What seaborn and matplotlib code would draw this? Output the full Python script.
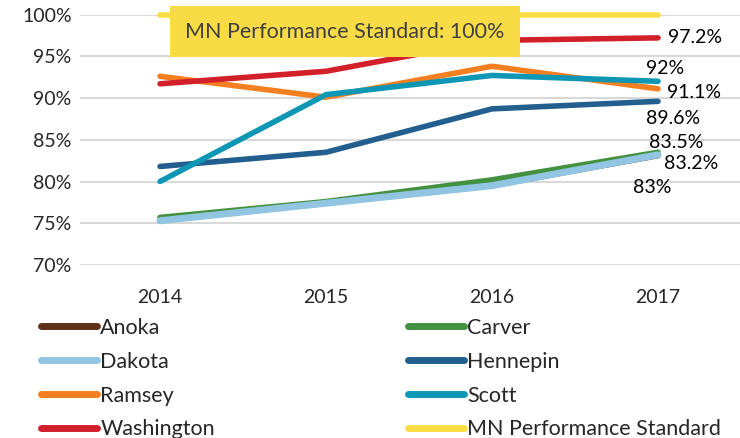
import pandas as pd
import numpy as np
import matplotlib
matplotlib.use('Agg')
import matplotlib.pyplot as plt
import seaborn as sns

# values
years = ['2014', '2015', '2016', '2017']
anoka = [75.3, 77.4, 79.5, 83.1]
carver = [75.7, 77.6, 80.2, 83.5]
dakota = [75.3, 77.4, 79.5, 83.2]
hennepin = [81.8, 83.5, 88.7, 89.6]
ramsey = [92.6, 90.1, 93.8, 91.1]
scott = [80.0, 90.4, 92.7, 92.0]
washington = [91.7, 93.2, 96.9, 97.2]
mn_standard = [100, 100, 100, 100]

names = ['Anoka', 'Carver', 'Dakota', 'Hennepin', 'Ramsey', 'Scott',
         'Washington', 'MN Performance Standard']
series = [anoka, carver, dakota, hennepin, ramsey, scott, washington, mn_standard]
colors = ['#5C3317', '#43913F', '#92C5E2', '#235F8E', '#F47F20', '#0E97B5',
          '#D2202B', '#F9DE45']

# end labels: text, dx px, dy px (positive dy = down)
end_labels = {'Washington': ('97.2%', 10, 0),
              'Scott': ('92%', -12, -13),
              'Ramsey': ('91.1%', 9, 4),
              'Hennepin': ('89.6%', -12, 17),
              'Carver': ('83.5%', -9, -10),
              'Dakota': ('83.2%', 6, 9),
              'Anoka': ('83%', -25, 32)}

rows = []
for n, s in zip(names, series):
    for i, v in enumerate(s):
        rows.append({'county': n, 'xi': i, 'pct': v})
df = pd.DataFrame(rows)

sns.set_style('white')
plt.rcParams['font.family'] = ['Lato', 'DejaVu Sans']

W, H = 740, 438
fig = plt.figure(figsize=(W / 100, H / 100), dpi=100)
ax = fig.add_axes([80 / W, (H - 265) / H, 660 / W, 250.5 / H])

sns.lineplot(data=df, x='xi', y='pct', hue='county', hue_order=names,
             palette=dict(zip(names, colors)), linewidth=4, ax=ax,
             solid_capstyle='round', legend=True)
for ln in ax.lines:
    ln.set_clip_on(False)
# Dakota sits on top of Anoka and hides it, as in the original
ax.lines[names.index('Dakota')].set_linewidth(5)

ax.set_xlim(-0.482, 3.494)
ax.set_ylim(70, 100)
ax.set_yticks(range(70, 101, 5))
ax.set_yticklabels([f'{t}%' for t in range(70, 101, 5)], fontsize=14)
ax.set_xticks(range(4))
ax.set_xticklabels(years, fontsize=14)
ax.tick_params(axis='x', pad=17, length=0)
ax.tick_params(axis='y', pad=6, length=0)
ax.yaxis.grid(True, color='#D9D9D9', linewidth=1.5)
ax.set_axisbelow(True)
for sp in ax.spines.values():
    sp.set_visible(False)
ax.set_xlabel('')
ax.set_ylabel('')

for n, s in zip(names, series):
    if n in end_labels:
        txt, dx, dy = end_labels[n]
        ax.annotate(txt, (3, s[-1]), xytext=(dx, -dy), textcoords='offset pixels',
                    fontsize=14, va='center', ha='left', color='#000000')

ax.text(1.114, 97.96, 'MN Performance Standard: 100%', fontsize=15.5,
        ha='center', va='center', color='#404040',
        bbox=dict(boxstyle='square,pad=0.7', fc='#F9DC45', ec='none'))

handles, labels = ax.get_legend_handles_labels()
ax.get_legend().remove()
leg_kw = dict(loc='upper left', frameon=False, fontsize=15.5, handlelength=2.6,
              handletextpad=0.15, labelspacing=0.64, borderpad=0,
              borderaxespad=0, bbox_transform=fig.transFigure)
col1 = [0, 2, 4, 6]
col2 = [1, 3, 5, 7]
leg1 = ax.legend([handles[i] for i in col1], [labels[i] for i in col1],
                 bbox_to_anchor=(41 / W, 1 - 318 / H), **leg_kw)
ax.add_artist(leg1)
leg2 = ax.legend([handles[i] for i in col2], [labels[i] for i in col2],
                 bbox_to_anchor=(408 / W, 1 - 318 / H), **leg_kw)
for lg in (leg1, leg2):
    for h in lg.get_lines():
        h.set_linewidth(5)
        h.set_solid_capstyle('round')

fig.savefig('out.png', dpi=100)
